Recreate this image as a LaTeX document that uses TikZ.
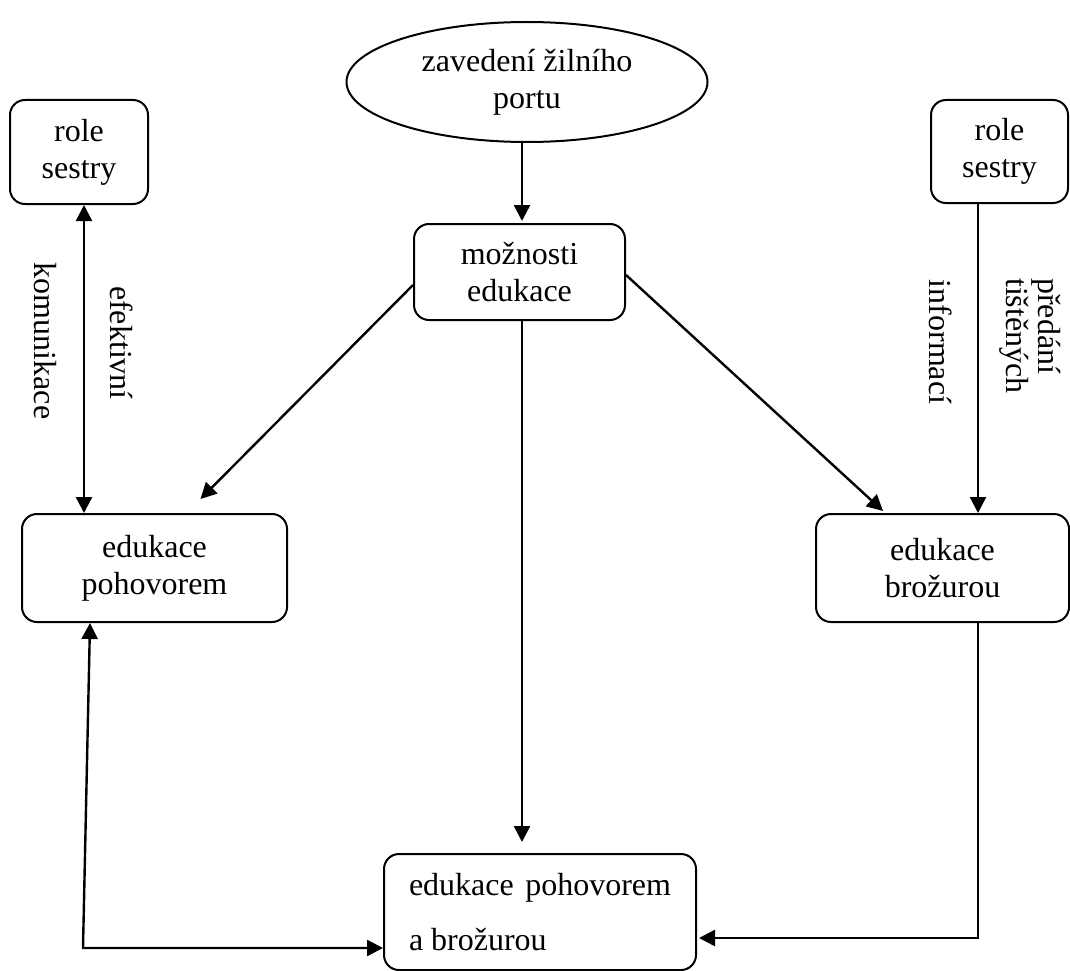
\documentclass[tikz,border=0pt]{standalone}
\usepackage{fontspec}
\setmainfont{Liberation Serif}
\usetikzlibrary{shapes.geometric,arrows.meta}

\tikzset{
  txt/.style={font=\fontsize{32}{37}\selectfont},
  box/.style={txt, draw, line width=2pt, rounded corners=15pt,
    inner sep=0pt, align=center},
  oval/.style={txt, draw, ellipse, line width=2pt, inner sep=0pt,
    align=center},
  lbl/.style={txt, rotate=-90, inner sep=0pt},
  conn/.style={line width=2.4pt, -{Triangle[length=16pt,width=16pt]}},
  dconn/.style={line width=2.4pt,
    {Triangle[length=16pt,width=16pt]}-{Triangle[length=16pt,width=16pt]}},
}

\begin{document}
\begin{tikzpicture}[x=1pt,y=-1pt]
\useasboundingbox (0,0) rectangle (1070,971);

% nodes
\node[oval, minimum width=361pt, minimum height=120pt] (port) at (527,82)
  {zavedení žilního\\portu};
\node[box, minimum width=211pt, minimum height=96pt] (moz) at (519.5,272)
  {možnosti\\edukace};
\node[box, minimum width=138pt, minimum height=104pt] (rsL) at (79,152)
  {role\\sestry};
\node[box, minimum width=137pt, minimum height=103pt] (rsR) at (999.5,151.5)
  {role\\sestry};
\node[box, minimum width=265pt, minimum height=108pt] (poh) at (154.5,568)
  {edukace\\pohovorem};
\node[box, minimum width=253pt, minimum height=108pt] (bro) at (942.5,568)
  {edukace\\brožurou};
\node[box, minimum width=312pt, minimum height=116pt] (obe) at (540,912)
  {\raisebox{-10pt}{\parbox{262pt}{\fontsize{32}{55}\selectfont
    edukace\ \ pohovorem\\a brožurou}}};

% labels on the vertical connectors
\node[lbl] (efe) at (122,343) {efektivní};
\node[lbl] (kom) at (45,341) {komunikace};
\node[lbl, align=left, anchor=west, font=\fontsize{32}{32}\selectfont]
  (pre) at (1030,278) {předání\\tištěných};
\node[lbl] (inf) at (941,342) {informací};

% connectors
\draw[conn] ([xshift=-5pt]port.south) -- ([xshift=2.5pt,yshift=2pt]moz.north);
\draw[dconn] ([xshift=5pt]rsL.south) -- ([xshift=-70.5pt]poh.north);
\draw[conn] ([yshift=-13pt]moz.west) -- ([xshift=46pt,yshift=14pt]poh.north);
\draw[conn] ([yshift=-3pt]moz.east) -- ([xshift=-59.5pt,yshift=2pt]bro.north);
\draw[conn] ([xshift=2.5pt]moz.south) -- ([xshift=-18pt,yshift=11pt]obe.north);
\draw[conn] ([xshift=-21.5pt]rsR.south) -- ([xshift=35.5pt]bro.north);
\draw[conn] ([xshift=35.5pt]bro.south) |- ([xshift=2pt,yshift=-26pt]obe.east);
\coordinate (lc) at (83,948);
\draw[dconn] ([xshift=-64.5pt]poh.south) -- (lc) -- ([yshift=-36pt]obe.west);
\end{tikzpicture}
\end{document}
